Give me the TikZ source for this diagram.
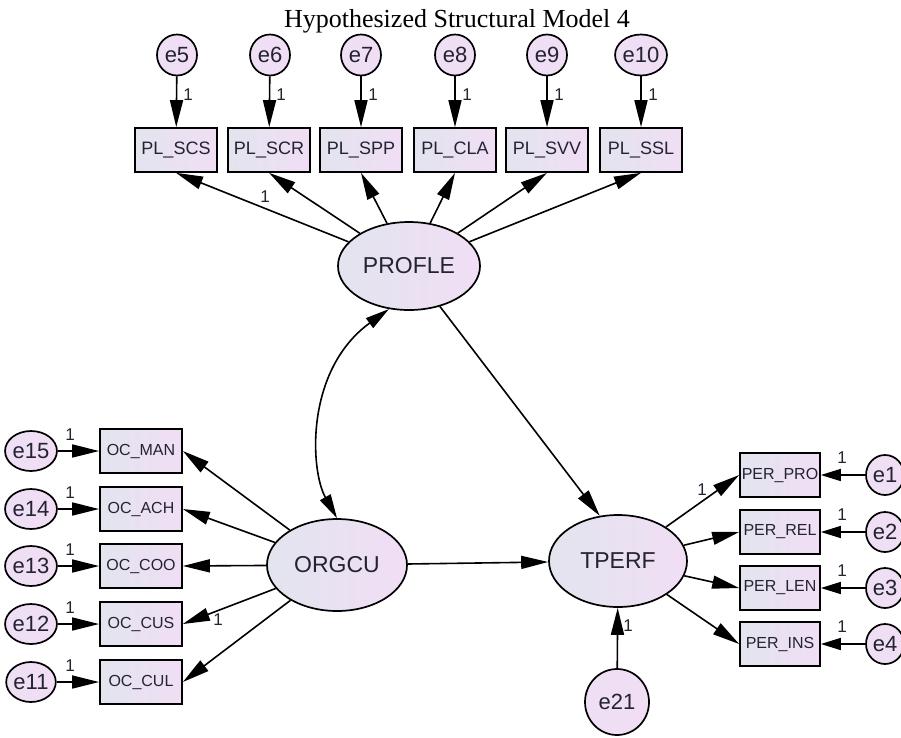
\documentclass[tikz,border=0pt]{standalone}
\usepackage{fontspec}
\setmainfont{Liberation Serif}
\setsansfont{Liberation Sans}
\usetikzlibrary{shapes.geometric,arrows.meta}

\definecolor{fondG}{RGB}{226,228,238}
\definecolor{fondD}{RGB}{241,222,245}
\definecolor{texte}{RGB}{35,35,50}

\begin{document}
\begin{tikzpicture}[x=1pt,y=-1pt,
  latente/.style={ellipse,draw,line width=1.7pt,left color=fondG,right color=fondD,
    minimum width=140pt,minimum height=90pt,inner sep=0pt,text=texte,
    font=\sffamily\fontsize{23}{23}\selectfont},
  erreur/.style={ellipse,draw,line width=1.7pt,left color=fondD!80!fondG,right color=fondD,
    minimum width=40pt,minimum height=41pt,inner sep=0pt,text=texte,
    font=\sffamily\fontsize{22}{22}\selectfont},
  mesure/.style={rectangle,draw,line width=1.7pt,left color=fondG,right color=fondD,
    minimum width=82pt,minimum height=44pt,inner sep=0pt,text=texte,
    font=\sffamily\fontsize{16}{16}\selectfont},
  mesurePL/.style={mesure,font=\sffamily\fontsize{18}{18}\selectfont},
  fleche/.style={line width=1.6pt,-{Triangle[length=27pt,width=13pt]}},
  courte/.style={line width=1.6pt,-{Triangle[length=20pt,width=12pt]}},
  poids/.style={text=texte,font=\sffamily\fontsize{17}{17}\selectfont}]

  \useasboundingbox (0,0) rectangle (901,737);

  % Titre
  \node[anchor=base,font=\fontsize{26}{26}\selectfont] (titre) at (457,27) {Hypothesized Structural Model 4};

  % Variables latentes
  \node[latente,minimum width=142pt,minimum height=88pt] (profle) at (409,266) {PROFLE};
  \node[latente,minimum height=92pt] (orgcu) at (337,565) {ORGCU};
  \node[latente,minimum width=138pt,minimum height=92pt] (tperf) at (618,561) {TPERF};
  \node[erreur,minimum width=64pt,minimum height=66pt] (e21) at (617,702) {e21};

  % Indicateurs de PROFLE et leurs erreurs
  \node[mesurePL] (scs) at (176,150) {PL\_SCS};
  \node[mesurePL] (scr) at (269,150) {PL\_SCR};
  \node[mesurePL] (spp) at (361,150) {PL\_SPP};
  \node[mesurePL] (cla) at (455,150) {PL\_CLA};
  \node[mesurePL] (svv) at (547,150) {PL\_SVV};
  \node[mesurePL] (ssl) at (641,150) {PL\_SSL};
  \node[erreur] (e5) at (177,55) {e5};
  \node[erreur] (e6) at (270,55) {e6};
  \node[erreur] (e7) at (361,55) {e7};
  \node[erreur] (e8) at (455,55) {e8};
  \node[erreur] (e9) at (547,55) {e9};
  \node[erreur] (e10) at (641,55) {e10};

  % Indicateurs de ORGCU et leurs erreurs
  \node[mesure] (man) at (141,451) {OC\_MAN};
  \node[mesure] (ach) at (141,509) {OC\_ACH};
  \node[mesure] (coo) at (141,566) {OC\_COO};
  \node[mesure] (cus) at (141,624) {OC\_CUS};
  \node[mesure] (cul) at (141,682) {OC\_CUL};
  \node[erreur,minimum width=38pt,minimum height=40pt] (e15) at (31,451) {e15};
  \node[erreur,minimum width=38pt,minimum height=40pt] (e14) at (31,509) {e14};
  \node[erreur,minimum width=38pt,minimum height=40pt] (e13) at (31,566) {e13};
  \node[erreur,minimum width=38pt,minimum height=40pt] (e12) at (31,624) {e12};
  \node[erreur,minimum width=38pt,minimum height=40pt] (e11) at (31,682) {e11};

  % Indicateurs de TPERF et leurs erreurs
  \node[mesure,minimum width=80pt] (pro) at (780,475) {PER\_PRO};
  \node[mesure,minimum width=80pt] (rel) at (780,532) {PER\_REL};
  \node[mesure,minimum width=80pt] (len) at (780,588) {PER\_LEN};
  \node[mesure,minimum width=80pt] (ins) at (780,644) {PER\_INS};
  \node[erreur,minimum width=38pt,minimum height=40pt] (e1) at (885,475) {e1};
  \node[erreur,minimum width=38pt,minimum height=40pt] (e2) at (885,532) {e2};
  \node[erreur,minimum width=38pt,minimum height=40pt] (e3) at (885,588) {e3};
  \node[erreur,minimum width=38pt,minimum height=40pt] (e4) at (885,644) {e4};

  % Fleches des erreurs
  \draw[fleche] (e5) -- (scs);
  \draw[fleche] (e6) -- (scr);
  \draw[fleche] (e7) -- (spp);
  \draw[fleche] (e8) -- (cla);
  \draw[fleche] (e9) -- (svv);
  \draw[fleche] (e10) -- (ssl);
  \draw[fleche] (e15) -- (man);
  \draw[fleche] (e14) -- (ach);
  \draw[fleche] (e13) -- (coo);
  \draw[fleche] (e12) -- (cus);
  \draw[fleche] (e11) -- (cul);
  \draw[courte] (e1) -- (pro);
  \draw[courte] (e2) -- (rel);
  \draw[courte] (e3) -- (len);
  \draw[courte] (e4) -- (ins);
  \draw[fleche] (e21) -- (tperf);

  % Saturations
  \draw[fleche] (profle) -- (scs.south);
  \draw[fleche] (profle) -- (scr.south);
  \draw[fleche] (profle) -- (spp.south);
  \draw[fleche] (profle) -- (cla.south);
  \draw[fleche] (profle) -- (svv.south);
  \draw[fleche] (profle) -- (ssl.south);
  \draw[fleche] (orgcu) -- (man.east);
  \draw[fleche] (orgcu) -- (ach.east);
  \draw[fleche] (orgcu) -- (coo.east);
  \draw[fleche] (orgcu) -- (cus.east);
  \draw[fleche] (orgcu) -- (cul.east);
  \draw[fleche] (tperf) -- (pro.west);
  \draw[fleche] (tperf) -- (rel.west);
  \draw[fleche] (tperf) -- (len.west);
  \draw[fleche] (tperf) -- (ins.west);

  % Relations structurelles
  \draw[fleche] (orgcu) -- (tperf);
  \draw[fleche] (profle) -- (tperf.112);
  \draw[line width=1.6pt,{Triangle[length=24pt,width=12pt]}-{Triangle[length=24pt,width=12pt]}]
    (orgcu.north) .. controls (310,470) and (305,370) .. (profle.245);

  % Poids fixes a 1
  \node[poids] (p5) at (188,95) {1};
  \node[poids] (p6) at (281,95) {1};
  \node[poids] (p7) at (373,95) {1};
  \node[poids] (p8) at (467,95) {1};
  \node[poids] (p9) at (559,95) {1};
  \node[poids] (p10) at (653,95) {1};
  \node[poids] (ps) at (265,197) {1};
  \node[poids] (p15) at (70,435) {1};
  \node[poids] (p14) at (70,493) {1};
  \node[poids] (p13) at (70,550) {1};
  \node[poids] (p12) at (70,608) {1};
  \node[poids] (p11) at (70,666) {1};
  \node[poids] (po) at (218,620) {1};
  \node[poids] (p1) at (842,458) {1};
  \node[poids] (p2) at (842,515) {1};
  \node[poids] (p3) at (842,571) {1};
  \node[poids] (p4) at (842,627) {1};
  \node[poids] (pt) at (702,490) {1};
  \node[poids] (p21) at (628,626) {1};
\end{tikzpicture}
\end{document}
